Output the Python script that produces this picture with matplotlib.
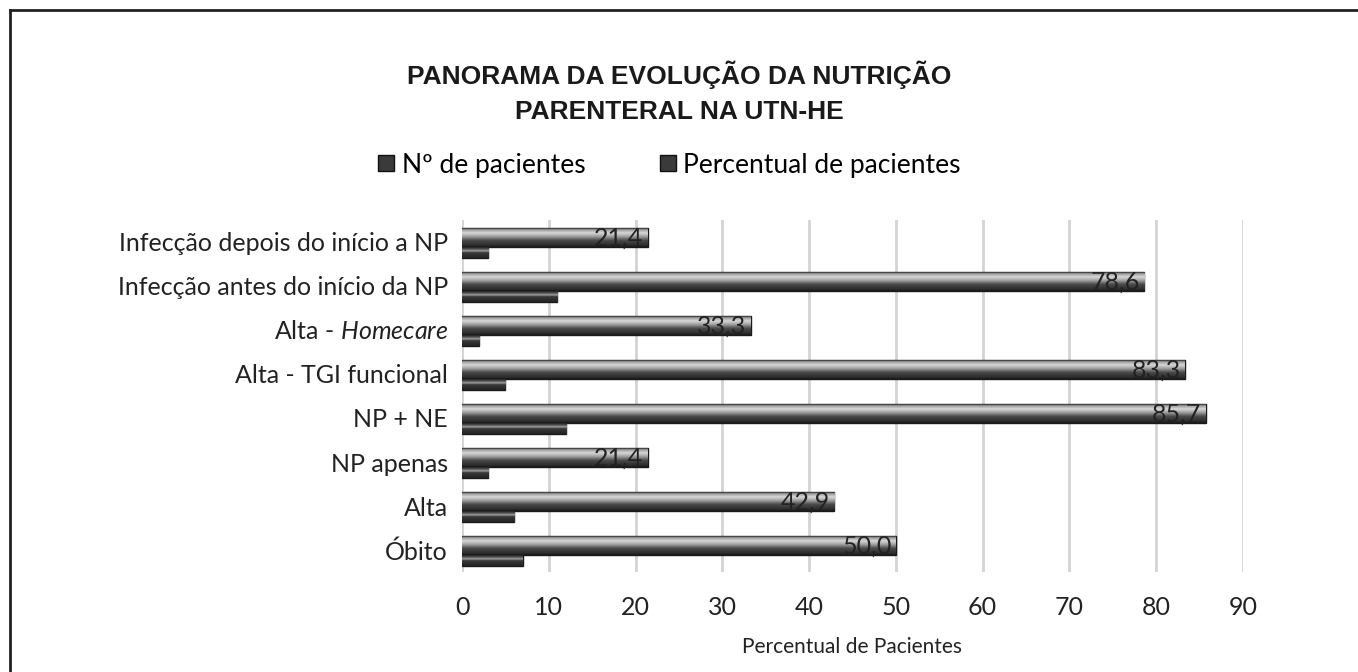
import numpy as np
import matplotlib as mpl
from matplotlib import pyplot as plt
from matplotlib.colors import LinearSegmentedColormap
from matplotlib.lines import Line2D

# data (top to bottom as shown in the chart)
categories = ['Infecção depois do início a NP', 'Infecção antes do início da NP',
              'Alta - $\\it{Homecare}$', 'Alta - TGI funcional', 'NP + NE',
              'NP apenas', 'Alta', 'Óbito']
n_pacientes = [3, 11, 2, 5, 12, 3, 6, 7]
perc_pacientes = [21.4, 78.6, 33.3, 83.3, 85.7, 21.4, 42.9, 50.0]
x_ticks = [0, 10, 20, 30, 40, 50, 60, 70, 80, 90]

label_font = 'Lato'
plt.rcParams['font.family'] = [label_font, 'DejaVu Sans']
plt.rcParams['mathtext.fontset'] = 'custom'
plt.rcParams['mathtext.rm'] = label_font
plt.rcParams['mathtext.it'] = label_font + ':italic'

fs = 18

fig = plt.figure(figsize=(13.58, 6.72), dpi=100)
ax = fig.add_axes([462/1358, 1 - 572/672, (1243-462)/1358, (572-220)/672])

# shading for the "cylinder" look of the bars
perc_cmap = LinearSegmentedColormap.from_list('perc', [
    (0.0, '#2a2a2a'), (0.08, '#9a9a9a'), (0.25, '#d8d8d8'), (0.45, '#9c9c9c'),
    (0.65, '#4a4a4a'), (0.9, '#2e2e2e'), (1.0, '#1a1a1a')])
count_cmap = LinearSegmentedColormap.from_list('count', [
    (0.0, '#1e1e1e'), (0.2, '#5a5a5a'), (0.35, '#a0a0a0'), (0.5, '#3a3a3a'),
    (1.0, '#222222')])
grad = np.linspace(0, 1, 64).reshape(-1, 1)

ypos = np.arange(len(categories))[::-1]
h_perc = 19/44
h_count = 11/44
y_perc = ypos + 0.318 - h_perc/2
y_count = ypos + 0.318 - h_perc - h_count/2

bars_p = ax.barh(y_perc, perc_pacientes, height=h_perc, color='#3a3a3a',
                 edgecolor='#1a1a1a', linewidth=1, zorder=3)
bars_c = ax.barh(y_count, n_pacientes, height=h_count, color='#2a2a2a',
                 edgecolor='#1a1a1a', linewidth=1, zorder=3)

for bars, cmap in ((bars_p, perc_cmap), (bars_c, count_cmap)):
    for b in bars:
        x0, y0 = b.get_x(), b.get_y()
        w, h = b.get_width(), b.get_height()
        im = ax.imshow(grad, cmap=cmap, aspect='auto', zorder=3.5,
                       extent=(x0, x0 + w, y0, y0 + h), origin='upper')
        im.set_clip_path(b)

for b, v in zip(bars_p, perc_pacientes):
    ax.text(b.get_width() - 0.5, b.get_y() + b.get_height()/2 - 0.02,
            f'{v:.1f}'.replace('.', ','), ha='right', va='center',
            fontsize=fs, color='#222222', zorder=5)

ax.set_xlim(0, 90)
ax.set_ylim(-0.5, len(categories) - 0.5)
ax.set_xticks(x_ticks)
ax.set_yticks(ypos)
ax.set_yticklabels(categories)
ax.tick_params(axis='both', length=0, labelsize=fs, colors='#222222')
ax.tick_params(axis='y', pad=10)
ax.tick_params(axis='x', pad=17)
ax.xaxis.grid(True, color='#d4d4d4', linewidth=2)
ax.set_axisbelow(True)
for s in ax.spines.values():
    s.set_visible(False)
ax.set_xlabel('Percentual de Pacientes', fontsize=15, color='#222222', labelpad=13)

fig.text(0.5, 1 - 92/672, 'PANORAMA DA EVOLUÇÃO DA NUTRIÇÃO\nPARENTERAL NA UTN-HE',
         ha='center', va='center', fontsize=19, fontweight='bold', linespacing=1.6,
         family=['Liberation Sans Narrow', 'Liberation Sans', 'DejaVu Sans'],
         color='#1a1a1a')

handles = [Line2D([], [], marker='s', linestyle='none', markersize=11,
                  markerfacecolor='#3a3a3a', markeredgecolor='#111111'),
           Line2D([], [], marker='s', linestyle='none', markersize=11,
                  markerfacecolor='#3a3a3a', markeredgecolor='#111111')]
fig.legend(handles, ['Nº de pacientes', 'Percentual de pacientes'],
           loc='center', bbox_to_anchor=(667/1358, 1 - 165/672), ncol=2,
           frameon=False, fontsize=19, handletextpad=0.1, columnspacing=2.6,
           handlelength=1.0)

# frame around the figure (top and left edges)
fig.add_artist(Line2D([10/1358, 1], [1 - 10/672, 1 - 10/672], color='#222222', linewidth=2))
fig.add_artist(Line2D([10/1358, 10/1358], [0, 1 - 10/672], color='#222222', linewidth=2))

fig.savefig('out.png', dpi=100)
